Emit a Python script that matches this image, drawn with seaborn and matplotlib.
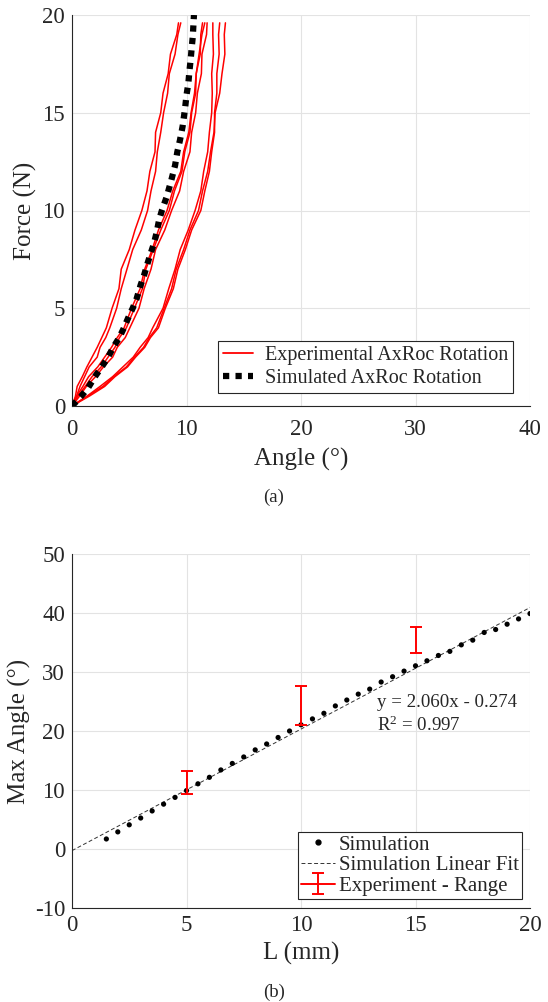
import numpy as np
import pandas as pd
import matplotlib
matplotlib.use("Agg")
import matplotlib.pyplot as plt
from matplotlib.lines import Line2D
import seaborn as sns

# ---------------- data: panel (a) ----------------
force_levels = [0, 0.5, 1, 1.5, 2, 2.5, 3, 3.5, 4, 5, 6, 7, 8, 9, 10,
                11, 12, 13, 14, 15, 16, 17, 18, 19, 19.6]
exp_angle_1 = [0.0, 0.3, 0.45, 0.9, 1.3, 1.75, 2.2, 2.6, 3.0, 3.5, 4.1, 4.3, 5.0,
               5.5, 6.1, 6.55, 6.8, 7.25, 7.3, 7.75, 7.95, 8.4, 8.6, 9.15, 9.3]
exp_angle_2 = [0.0, 0.4, 0.7, 1.1, 1.5, 2.2, 2.45, 2.95, 3.3, 3.9, 4.3, 4.8, 5.3,
               6.05, 6.6, 6.9, 7.3, 7.45, 7.75, 8.0, 8.35, 8.5, 9.0, 9.25, 9.5]
exp_angle_3 = [0.0, 0.5, 1.15, 1.75, 2.55, 3.15, 3.75, 4.15, 4.75, 5.45, 6.15, 6.45, 7.1,
               7.75, 8.5, 8.95, 9.6, 9.85, 10.3, 10.45, 10.8, 10.85, 11.2, 11.25, 11.4]
exp_angle_4 = [0.0, 0.65, 1.25, 2.05, 2.75, 3.55, 3.95, 4.65, 5.05, 5.85, 6.3, 6.9, 7.3,
               8.1, 8.7, 9.4, 9.75, 10.3, 10.45, 10.8, 10.95, 11.3, 11.35, 11.75, 11.8]
exp_angle_5 = [0.0, 0.4, 0.95, 1.45, 2.25, 2.85, 3.45, 3.95, 4.55, 5.2, 5.95, 6.35, 7.0,
               7.55, 8.3, 8.8, 9.5, 9.75, 10.2, 10.4, 10.7, 10.85, 11.1, 11.35, 11.6]
exp_angle_6 = [0.0, 1.3, 2.45, 3.55, 4.45, 5.35, 5.95, 6.65, 7.05, 7.95, 8.45, 9.0, 9.45,
               10.15, 10.75, 11.25, 11.5, 11.85, 12.0, 12.2, 12.25, 12.2, 12.35, 12.3, 12.3]
exp_angle_7 = [0.0, 1.5, 2.85, 3.75, 4.85, 5.55, 6.35, 6.85, 7.55, 8.15, 8.85, 9.25, 9.9,
               10.45, 11.25, 11.6, 12.0, 12.2, 12.45, 12.45, 12.65, 12.65, 12.85, 12.8, 12.9]
exp_angle_8 = [0.0, 1.35, 2.7, 3.65, 4.75, 5.45, 6.25, 6.75, 7.4, 8.05, 8.7, 9.1, 9.75,
               10.3, 11.05, 11.4, 11.85, 12.1, 12.4, 12.5, 12.9, 13.1, 13.35, 13.3, 13.4]

sim_angle = [0, 0.76, 1.43, 2.0, 2.6, 3.15, 3.6, 4.13, 4.54, 4.9, 5.3, 5.65, 6.0, 6.3,
             6.6, 6.87, 7.15, 7.4, 7.6, 7.85, 8.27, 8.65, 9.0, 9.2, 9.43, 9.66, 9.87,
             10.0, 10.16, 10.25, 10.36, 10.45, 10.55, 10.65]
sim_force = [0, 0.47, 0.95, 1.5, 2.0, 2.5, 3.0, 3.5, 4.0, 4.5, 5.0, 5.5, 6.2, 6.7,
             7.3, 7.8, 8.3, 8.9, 9.5, 10.0, 10.7, 11.5, 12.3, 13.0, 13.6, 14.3, 15.2,
             15.9, 16.5, 17.1, 17.7, 18.3, 18.9, 20.0]

# ---------------- data: panel (b) ----------------
sim_L = [1.5, 2.0, 2.5, 3.0, 3.5, 4.0, 4.5, 5.0, 5.5, 6.0, 6.5, 7.0, 7.5, 8.0, 8.5,
         9.0, 9.5, 10.0, 10.5, 11.0, 11.5, 12.0, 12.5, 13.0, 13.5, 14.0, 14.5, 15.0,
         15.5, 16.0, 16.5, 17.0, 17.5, 18.0, 18.5, 19.0, 19.5, 20.0]
sim_max_angle = [1.7, 2.9, 4.1, 5.25, 6.45, 7.6, 8.75, 9.9, 11.05, 12.15, 13.4, 14.5,
                 15.6, 16.8, 17.8, 18.9, 20.0, 21.05, 22.05, 23.0, 24.25, 25.25, 26.25,
                 27.1, 28.3, 29.2, 30.15, 31.05, 31.9, 32.8, 33.5, 34.6, 35.4, 36.7,
                 37.2, 38.1, 39.0, 39.9]
fit_slope = 2.060
fit_intercept = -0.274
fit_r2 = 0.997
fit_L = [0, 20]
exp_L = [5, 10, 15]
exp_min = [9.4, 21.0, 33.2]
exp_max = [13.3, 27.7, 37.7]

# ---------------- style ----------------
sns.set_theme(style="white")
plt.rcParams["font.family"] = ["Liberation Serif", "DejaVu Serif"]
plt.rcParams["mathtext.fontset"] = "custom"
plt.rcParams["mathtext.rm"] = "Liberation Serif"
plt.rcParams["mathtext.it"] = "Liberation Serif:italic"
plt.rcParams["axes.unicode_minus"] = False
AX_COL = "#262626"
GRID_COL = "#e3e3e3"
TICK_FS = 16.5
LABEL_FS = 18

fig = plt.figure(figsize=(5.48, 10.02), dpi=100)
W, H = 548, 1002
ax1 = fig.add_axes([72 / W, 1 - 406 / H, 458 / W, 391 / H])
ax2 = fig.add_axes([72 / W, 1 - 908 / H, 458 / W, 354 / H])


def style_axes(ax, xpad):
    for s in ["top", "right"]:
        ax.spines[s].set_visible(False)
    for s in ["left", "bottom"]:
        ax.spines[s].set_color(AX_COL)
        ax.spines[s].set_linewidth(0.8)
    ax.grid(True, color=GRID_COL, linewidth=0.8)
    ax.set_axisbelow(True)
    ax.tick_params(direction="in", length=4, width=0.8, color=AX_COL,
                   labelcolor=AX_COL, labelsize=TICK_FS, pad=5)
    ax.tick_params(axis="x", pad=xpad)


# ---------------- panel (a) ----------------
exp_curves = [exp_angle_1, exp_angle_2, exp_angle_3, exp_angle_4,
              exp_angle_5, exp_angle_6, exp_angle_7, exp_angle_8]
rows = []
for i, c in enumerate(exp_curves):
    for a, f in zip(c, force_levels):
        rows.append({"curve": i, "angle": a, "force": f})
df_exp = pd.DataFrame(rows)
df_sim = pd.DataFrame({"angle": sim_angle, "force": sim_force})

sns.lineplot(data=df_exp, x="angle", y="force", units="curve", estimator=None,
             sort=False, color="#ff0000", lw=1.1, ax=ax1, legend=False)
sns.lineplot(data=df_sim, x="angle", y="force", sort=False, estimator=None,
             color="black", lw=4.5, linestyle=(0, (1, 1)), ax=ax1, legend=False,
             zorder=5)

ax1.set_xlim(0, 40)
ax1.set_ylim(0, 20)
ax1.set_xticks([0, 10, 20, 30, 40])
ax1.set_yticks([0, 5, 10, 15, 20])
style_axes(ax1, 9.5)
ax1.set_xlabel("Angle (°)", fontsize=LABEL_FS, color=AX_COL)
ax1.set_ylabel("Force (N)", fontsize=LABEL_FS, color=AX_COL)
ax1.xaxis.set_label_coords(0.5, -0.108)
ax1.yaxis.set_label_coords(-0.076, 0.5)

h1 = [Line2D([], [], color="#ff0000", lw=1.3),
      Line2D([], [], color="black", lw=4.5, linestyle=(0, (1, 1)))]
leg1 = ax1.legend(h1, ["Experimental AxRoc Rotation", "Simulated AxRoc Rotation"],
                  loc="lower right", bbox_to_anchor=(0.963, 0.033), borderaxespad=0,
                  fontsize=14.5, frameon=True, fancybox=False, framealpha=1,
                  edgecolor=AX_COL, handlelength=1.45, handletextpad=0.6,
                  labelspacing=0.2, borderpad=0.25)
leg1.get_frame().set_linewidth(0.8)

# ---------------- panel (b) ----------------
df_b = pd.DataFrame({"L": sim_L, "angle": sim_max_angle})
fit_y = [fit_slope * x + fit_intercept for x in fit_L]
df_fit = pd.DataFrame({"L": fit_L, "angle": fit_y})

sns.lineplot(data=df_fit, x="L", y="angle", color="#333333", lw=0.7,
             linestyle=(0, (4, 2.5)), ax=ax2, legend=False, zorder=2)
sns.scatterplot(data=df_b, x="L", y="angle", color="black", s=14,
                edgecolor="none", ax=ax2, legend=False, zorder=3)
centers = [(a + b) / 2 for a, b in zip(exp_min, exp_max)]
lo = [c - a for c, a in zip(centers, exp_min)]
hi = [b - c for c, b in zip(centers, exp_max)]
ax2.errorbar(exp_L, centers, yerr=[lo, hi], fmt="none", ecolor="#ff0000",
             elinewidth=1.4, capsize=4, capthick=1.4, zorder=4)
proxy_eb = ax2.errorbar([np.nan], [np.nan], yerr=[[1], [1]], fmt="-",
                        color="#ff0000", lw=1.4, capsize=4, capthick=1.4)

ax2.set_xlim(0, 20)
ax2.set_ylim(-10, 50)
ax2.set_xticks([0, 5, 10, 15, 20])
ax2.set_yticks([-10, 0, 10, 20, 30, 40, 50])
style_axes(ax2, 5)
ax2.set_xlabel("L (mm)", fontsize=LABEL_FS, color=AX_COL)
ax2.set_ylabel("Max Angle (°)", fontsize=LABEL_FS, color=AX_COL)
ax2.xaxis.set_label_coords(0.5, -0.095)
ax2.yaxis.set_label_coords(-0.09, 0.5)

ax2.text(13.3, 24.9, f"y = {fit_slope:.3f}x - {abs(fit_intercept):.3f}",
         fontsize=13.6, color=AX_COL, va="center", ha="left")
ax2.text(13.3, 20.9, f"R$^{{2}}$ = {fit_r2:.3f}", fontsize=13.6, color=AX_COL,
         va="center", ha="left")

h2 = [Line2D([], [], marker="o", color="black", linestyle="none", markersize=3.5),
      Line2D([], [], color="#333333", lw=0.7, linestyle=(0, (4, 2.5))),
      proxy_eb]
leg2 = ax2.legend(h2, ["Simulation", "Simulation Linear Fit", "Experiment - Range"],
                  loc="lower right", bbox_to_anchor=(0.9825, 0.025), borderaxespad=0,
                  fontsize=15, frameon=True, fancybox=False, framealpha=1,
                  edgecolor=AX_COL, handlelength=1.6, handletextpad=0.2,
                  labelspacing=0.05, borderpad=0.15)
leg2.get_frame().set_linewidth(0.8)

fig.text(0.5, 1 - 497 / H, "(a)", ha="center", va="center", fontsize=13.5, color=AX_COL)
fig.text(0.5, 1 - 992 / H, "(b)", ha="center", va="center", fontsize=13.5, color=AX_COL)

fig.savefig("out.png", dpi=100)
